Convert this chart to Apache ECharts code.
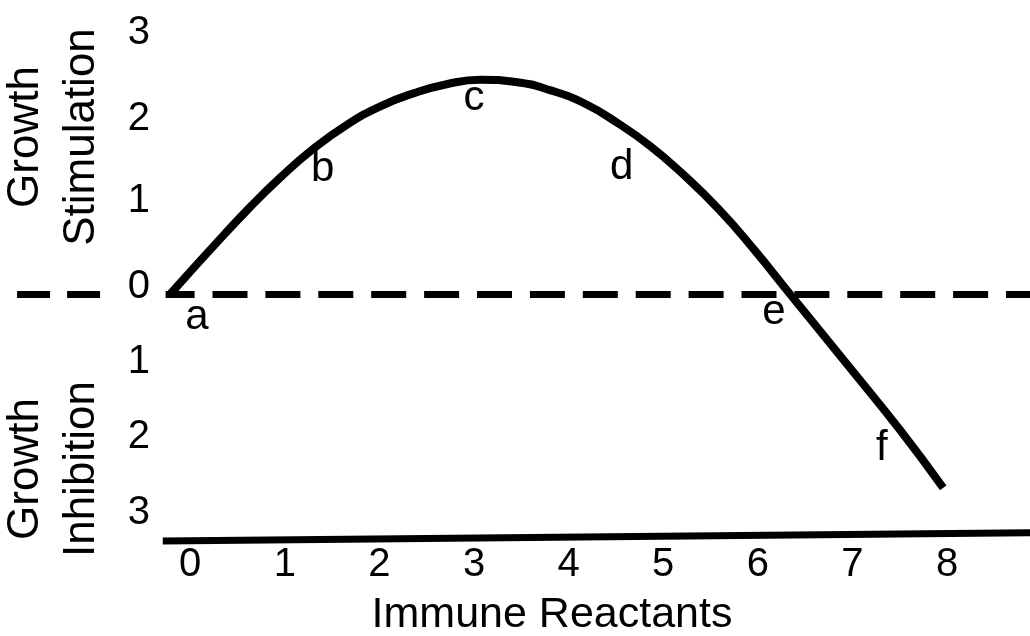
<!DOCTYPE html>
<html>
<head>
<meta charset="utf-8">
<script src="https://cdn.jsdelivr.net/npm/echarts@6/dist/echarts.min.js"></script>
<style>
  html, body { margin: 0; padding: 0; background: #fff; }
  #chart { width: 1030px; height: 636px; }
</style>
</head>
<body>
<div id="chart"></div>
<script>
// data
const xTicks = [0, 1, 2, 3, 4, 5, 6, 7, 8];
const yTicks = [3, 2, 1, 0, -1, -2, -3];
const curveX = [-0.21, 0.21, 0.63, 0.95, 1.30, 1.66, 2.01, 2.36, 2.71, 3.07, 3.44, 3.81, 4.18, 4.53, 4.86, 5.18, 5.60, 5.97, 6.34, 6.98, 7.51, 7.96];
const curveY = [0, 0.58, 1.14, 1.53, 1.91, 2.23, 2.47, 2.64, 2.76, 2.82, 2.79, 2.68, 2.50, 2.24, 1.95, 1.61, 1.10, 0.57, 0, -0.98, -1.80, -2.55];
const letters = ["a", "b", "c", "d", "e", "f"];
const letterX = [0.07, 1.40, 3.00, 4.56, 6.17, 7.31];
const letterY = [-0.31, 1.64, 2.57, 1.67, -0.24, -2.03];
const zeroLeft = [-1.83, -0.95];
const zeroRight = [-0.26, 9];
const baseLine = [[-0.29, -3.25], [9, -3.14]];

const FONT = "Liberation Sans, Arial, Helvetica, sans-serif";

// hand-drawn tick labels sit a bit higher than the ticks
const yLift = { 3: 33, 2: 23, 1: 17, 0: 7, "-1": 8, "-2": 9, "-3": 9 };
const rich = {};
yTicks.forEach((v, i) => {
  rich["l" + i] = {
    fontSize: 40,
    fontFamily: FONT,
    color: "#000",
    padding: [0, 0, yLift[v] * 2, 0],
  };
});

const chart = echarts.init(document.getElementById("chart"));

const getOption = () => {
  return {
    animation: false,
    backgroundColor: "#fff",
    textStyle: { fontFamily: FONT, color: "#000" },
    grid: {
      left: 1,
      width: 1040.6,
      top: 66,
      height: 532,
      containLabel: false,
      outerBoundsMode: "none",
    },
    xAxis: {
      type: "value",
      min: -2,
      max: 9,
      interval: 1,
      offset: -61,
      axisLine: { show: false },
      axisTick: { show: false },
      splitLine: { show: false },
      axisLabel: {
        fontSize: 40,
        fontFamily: FONT,
        color: "#000",
        margin: 8,
        formatter: (v) => (xTicks.includes(v) ? String(v) : ""),
      },
    },
    yAxis: {
      type: "value",
      min: -4,
      max: 3,
      interval: 1,
      offset: -157,
      axisLine: { show: false },
      axisTick: { show: false },
      splitLine: { show: false },
      axisLabel: {
        margin: 8,
        showMaxLabel: true,
        formatter: (v) => {
          const i = yTicks.indexOf(v);
          return i < 0 ? "" : `{l${i}|${Math.abs(v)}}`;
        },
        rich: rich,
      },
    },
    graphic: [
      {
        type: "text",
        x: 54,
        y: 137,
        rotation: Math.PI / 2,
        style: {
          text: "Growth\nStimulation",
          fontSize: 44,
          fontFamily: FONT,
          lineHeight: 56,
          fill: "#000",
          align: "center",
          verticalAlign: "middle",
          textAlign: "center",
          textVerticalAlign: "middle",
        },
      },
      {
        type: "text",
        x: 54,
        y: 469,
        rotation: Math.PI / 2,
        style: {
          text: "Growth\nInhibition",
          fontSize: 44,
          fontFamily: FONT,
          lineHeight: 56,
          fill: "#000",
          align: "center",
          verticalAlign: "middle",
          textAlign: "center",
          textVerticalAlign: "middle",
        },
      },
      {
        type: "text",
        x: 552,
        y: 615,
        style: {
          text: "Immune Reactants",
          fontSize: 43,
          fontFamily: FONT,
          fill: "#000",
          align: "center",
          verticalAlign: "middle",
          textAlign: "center",
          textVerticalAlign: "middle",
        },
      },
    ],
    series: [
      {
        type: "line",
        data: curveX.map((x, i) => [x, curveY[i]]),
        smooth: 0.5,
        symbol: "none",
        lineStyle: { color: "#000", width: 8, cap: "butt", join: "round" },
        markLine: {
          silent: true,
          symbol: ["none", "none"],
          label: { show: false },
          data: [
            [
              { coord: [zeroLeft[0], 0], lineStyle: { color: "#000", width: 7, type: [33, 17] } },
              { coord: [zeroLeft[1], 0] },
            ],
            [
              { coord: [zeroRight[0], 0], lineStyle: { color: "#000", width: 7, type: [35, 17.9], dashOffset: 6 } },
              { coord: [zeroRight[1], 0] },
            ],
            [
              { coord: baseLine[0], lineStyle: { color: "#000", width: 7, type: "solid" } },
              { coord: baseLine[1] },
            ],
          ],
        },
        z: 3,
      },
      {
        type: "scatter",
        data: letters.map((t, i) => [letterX[i], letterY[i], t]),
        symbolSize: 0,
        silent: true,
        label: {
          show: true,
          position: [0, 0],
          align: "center",
          verticalAlign: "middle",
          fontSize: 42,
          fontFamily: FONT,
          color: "#000",
          opacity: 1,
          formatter: (p) => p.data[2],
        },
        z: 4,
      },
    ],
  };
};

chart.setOption(getOption());
</script>
</body>
</html>
